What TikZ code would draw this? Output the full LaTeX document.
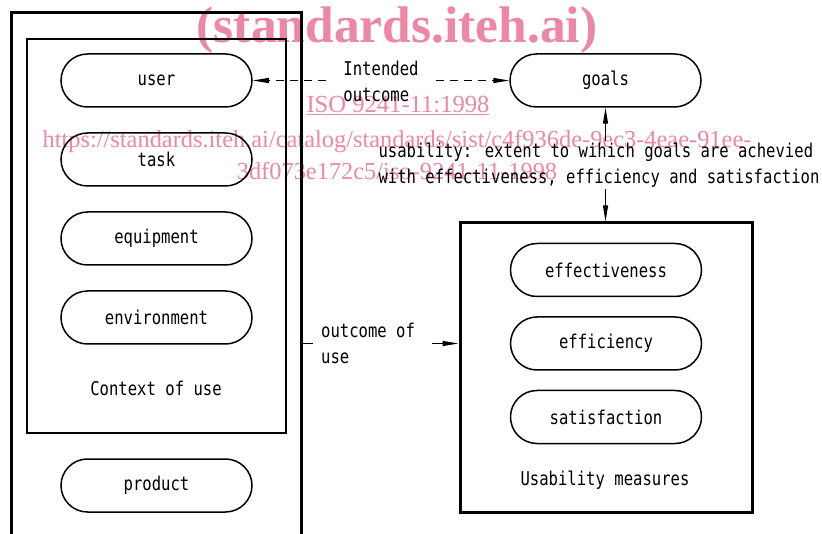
\documentclass[tikz,border=0pt]{standalone}
\usepackage{fontspec}
\usetikzlibrary{shapes.misc,arrows.meta}
\newfontfamily\isofont[FakeStretch=0.82]{DejaVu Sans Mono}
\newfontfamily\wmfont{Liberation Serif}
\definecolor{wmpink}{RGB}{236,135,165}
\begin{document}
\begin{tikzpicture}[x=1pt,y=-1pt,
  pill/.style={rounded rectangle, draw, line width=1.5pt, minimum width=191pt, minimum height=53pt, inner sep=0pt, font=\isofont\fontsize{19}{26}\selectfont},
  lbl/.style={inner sep=0pt, font=\isofont\fontsize{19}{26}\selectfont},
  conn/.style={line width=1.2pt},
  dashpat/.style={dash pattern=on 8pt off 6pt},
  isoarrow/.style={-{Triangle[length=16pt,width=5pt]}},
  wm/.style={text=wmpink, inner sep=0pt}]
\useasboundingbox (0,0) rectangle (822,534);
% watermark
\node[wm, font=\wmfont\bfseries\fontsize{51.5}{60}\selectfont] (wm1) at (397,30) {(standards.iteh.ai)};
\node[wm, font=\wmfont\fontsize{24.6}{32}\selectfont] (wm2) at (398,105) {\underline{ISO 9241-11:1998}};
\node[wm, font=\wmfont\fontsize{24.4}{32}\selectfont, align=center] (wm3) at (397,155) {https://standards.iteh.ai/catalog/standards/sist/c4f936de-9ec3-4eae-91ee-\\3df073e172c5/iso-9241-11-1998};
% left boxes
\draw[line width=3pt] (11,540) -- (11,13) -- (301,13) -- (301,540);
\draw[line width=2pt] (27,39) rectangle (286,433);
\node[pill] (user) at (156.5,80.5) {user};
\node[pill] (task) at (156.5,159.5) {task};
\node[pill] (equip) at (156.5,238.5) {equipment};
\node[pill] (env) at (156.5,317.5) {environment};
\node[lbl] (ctx) at (156,388) {Context of use};
\node[pill] (prod) at (156.5,485.5) {product};
% right side
\node[pill] (goals) at (605.5,80.5) {goals};
\node[draw, line width=3pt, minimum width=292pt, minimum height=289pt, inner sep=0pt] (um) at (606,367.5) {};
\node[pill] (eff) at (606,270) {effectiveness};
\node[pill] (effi) at (606,343.5) {efficiency};
\node[pill] (sat) at (606,417) {satisfaction};
\node[lbl] (uml) at (605,480) {Usability measures};
% connectors
\node[lbl, align=left, inner xsep=17pt] (io) at (381,81.5) {Intended\\outcome};
\draw[conn, dashpat, isoarrow] (io.west |- user.east) -- (user.east);
\draw[conn, dashpat, isoarrow] (io.east |- goals.west) -- (goals.west);
\node[lbl, align=left, inner ysep=2pt] (ud) at (599,165) {usability: extent to wihich goals are achevied\\with effectiveness, efficiency and satisfaction};
\draw[conn, isoarrow] (goals.south |- ud.north) -- (goals.south);
\draw[conn, isoarrow] (goals.south |- ud.south) -- (goals.south |- um.north);
\coordinate (oe) at (301,343.5);
\node[lbl, align=left, anchor=west] (ou) at (321,343.5) {outcome of\\use};
\coordinate (ol) at ([xshift=-8pt]ou.west);
\coordinate (oa) at ([xshift=17pt]ou.east);
\draw[conn] (oe) -- (ol);
\draw[conn, isoarrow] (oa) -- (um.west |- oa);
\end{tikzpicture}
\end{document}
